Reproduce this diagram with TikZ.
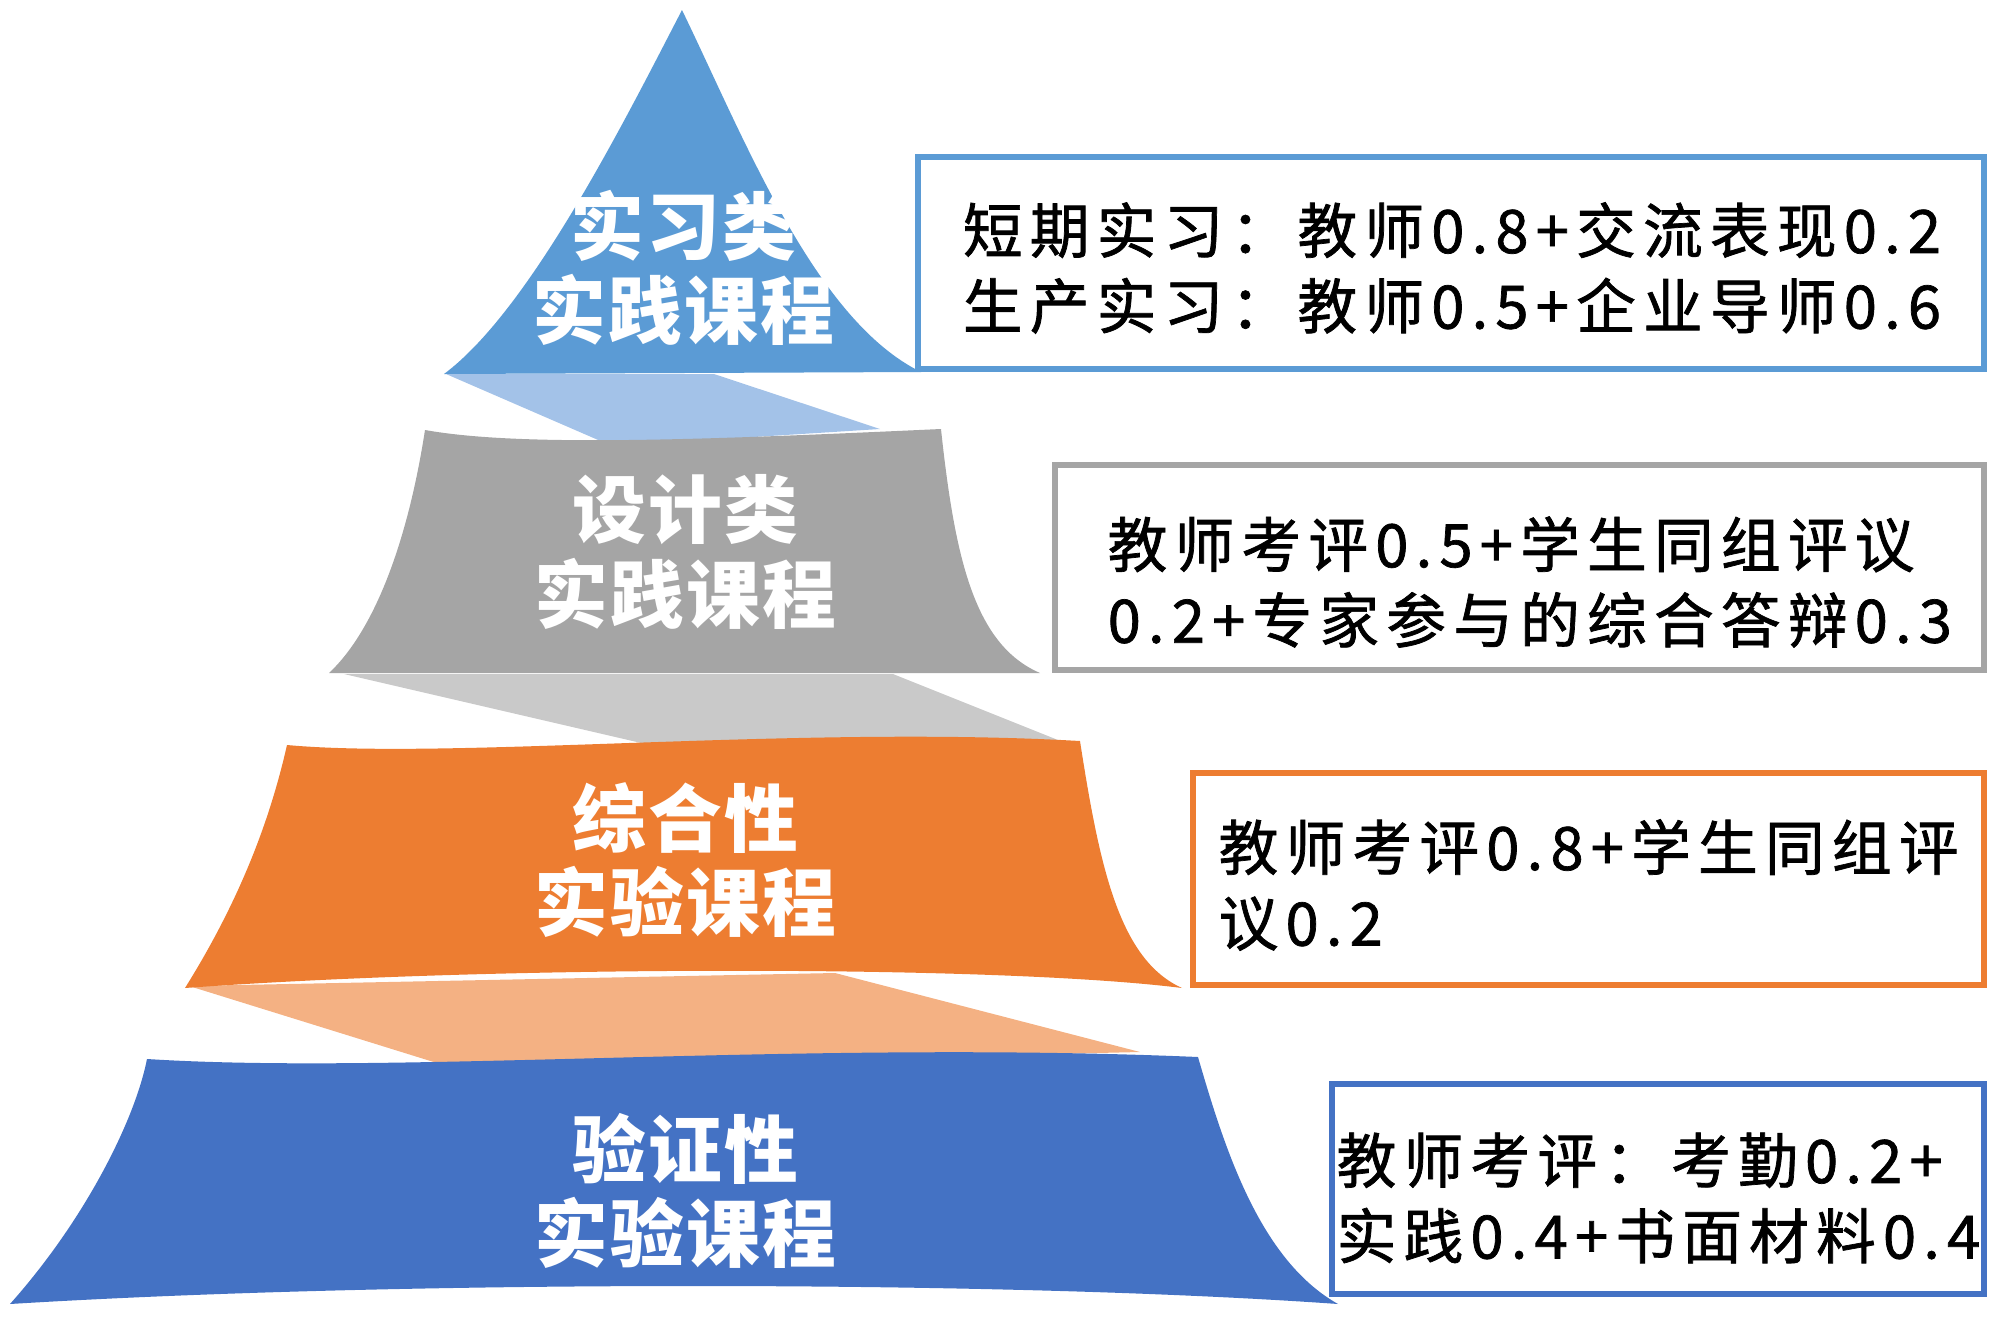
\documentclass[tikz,border=0pt]{standalone}
\usepackage{fontspec}
\usepackage{xcolor}
\newfontfamily\cjkfont[LetterSpace=12, FakeBold=1.2]{Noto Sans CJK SC}
\newfontfamily\cjklabel[LetterSpace=3]{Noto Sans CJK SC}
\definecolor{tierA}{HTML}{5B9BD5}
\definecolor{bandA}{HTML}{A3C2E8}
\definecolor{tierB}{HTML}{A5A5A5}
\definecolor{bandB}{HTML}{C9C9C9}
\definecolor{tierC}{HTML}{ED7D31}
\definecolor{bandC}{HTML}{F4B183}
\definecolor{tierD}{HTML}{4472C4}

\begin{document}
\begin{tikzpicture}[x=0.1mm, y=-0.1mm,
    tiertext/.style={text=white, font=\cjklabel\bfseries\fontsize{21}{24}\selectfont, align=center, inner sep=0pt},
    boxtext/.style={font=\cjkfont\fontsize{17}{21.5}\selectfont, inner sep=0pt},
    evalbox/.style={draw, line width=1.6pt, fill=white, anchor=north west, inner sep=0pt}]
    \useasboundingbox (0,0) rectangle (2000,1329);

    % Bands
    \fill[bandA] (446,374) -- (714,374) -- (880,429) -- (612,446) -- cycle;
    \fill[bandB] (344,674) -- (893,674) -- (1058,740) -- (680,752) -- cycle;
    \fill[bandC] (189,986) -- (835,973) -- (1140,1052) -- (453,1068) -- cycle;

    % Layers
    \fill[tierA] (682,10) .. controls (625,120) and (530,310) .. (444,374)
        -- (921,372) .. controls (815,320) and (745,140) .. (682,10) -- cycle;
    \fill[tierB] (425,430) .. controls (520,447) and (700,440) .. (941,429)
        .. controls (955,560) and (975,645) .. (1040,673)
        -- (329,673) .. controls (375,630) and (408,540) .. (425,430) -- cycle;
    \fill[tierC] (287,745) .. controls (450,760) and (800,725) .. (1080,741)
        .. controls (1100,870) and (1120,960) .. (1182,988)
        .. controls (1000,965) and (500,965) .. (185,988)
        .. controls (240,900) and (270,820) .. (287,745) -- cycle;
    \fill[tierD] (147,1059) .. controls (400,1075) and (800,1040) .. (1198,1057)
        .. controls (1225,1150) and (1260,1260) .. (1338,1304)
        .. controls (1000,1280) and (400,1280) .. (10,1304)
        .. controls (85,1220) and (135,1120) .. (147,1059) -- cycle;

    % Labels
    \node[tiertext] (intern) at (683,268) {实习类\\实践课程};
    \node[tiertext] (design) at (685,552) {设计类\\实践课程};
    \node[tiertext] (comp) at (685,860) {综合性\\实验课程};
    \node[tiertext] (verify) at (685,1191) {验证性\\实验课程};

    % Boxes
    \node[evalbox, draw=tierA, minimum width=106.6mm, minimum height=21.2mm] (box1) at (915,154) {};
    \node[evalbox, draw=tierB, minimum width=92.9mm, minimum height=20.5mm] (box2) at (1052,462) {};
    \node[evalbox, draw=tierC, minimum width=79.1mm, minimum height=21.2mm] (box3) at (1190,770) {};
    \node[evalbox, draw=tierD, minimum width=65.2mm, minimum height=21mm] (box4) at (1329,1081) {};

    \node[boxtext, align=center] (txt1) at (1452,268) {短期实习：教师0.8+交流表现0.2\\生产实习：教师0.5+企业导师0.6};
    \node[boxtext, align=left, anchor=west] (txt2) at (1107,582) {教师考评0.5+学生同组评议\\0.2+专家参与的综合答辩0.3};
    \node[boxtext, align=left, anchor=west] (txt3) at (1218,885) {教师考评0.8+学生同组评\\议0.2};
    \node[boxtext, align=left, anchor=west] (txt4) at (1336,1198) {教师考评：考勤0.2+\\实践0.4+书面材料0.4};
\end{tikzpicture}
\end{document}
